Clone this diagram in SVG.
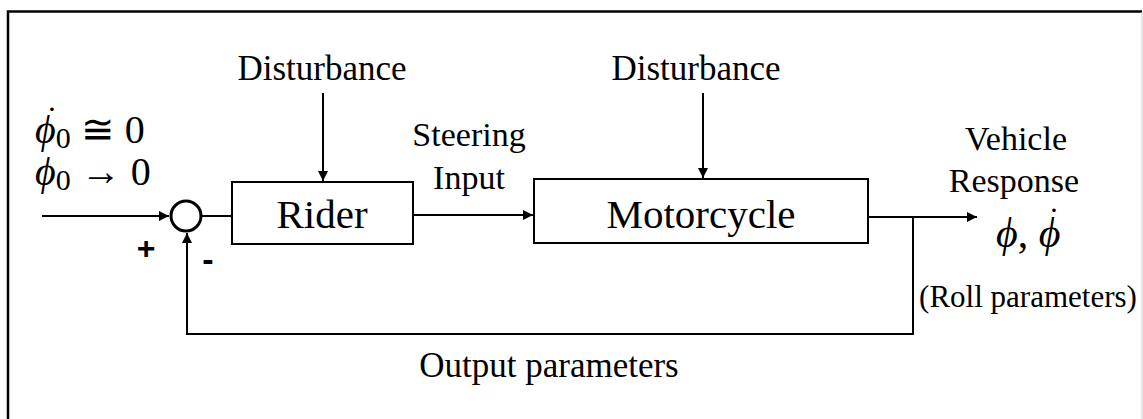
<svg xmlns="http://www.w3.org/2000/svg" width="1143" height="419" viewBox="0 0 1143 419">
<style>
.t{font-family:"Liberation Serif","Times New Roman",serif;fill:#000}
.m{font-family:"Liberation Serif","DejaVu Serif",serif;font-style:italic;fill:#000}
.ln{stroke:#000;stroke-width:2;fill:none}
.box{stroke:#000;stroke-width:2;fill:#fff}
.sg{font-family:"Liberation Sans",Arial,sans-serif;font-weight:bold;fill:#000}
</style>
<defs>
<marker id="ah" viewBox="0 0 10 10" refX="10" refY="5" markerWidth="10" markerHeight="10" markerUnits="userSpaceOnUse" orient="auto">
<path d="M0,0 L10,5 L0,10 z" fill="#000"/>
</marker>
</defs>
<rect x="0" y="0" width="1143" height="419" fill="#fff"/>
<g id="frame">
<path d="M8,420 V11.5 H1142" stroke="#000" stroke-width="2.5" fill="none"/>
<line x1="1142" y1="12" x2="1142" y2="419" stroke="#ccc" stroke-width="1"/>
</g>
<g id="connectors">
<line class="ln" x1="42" y1="216" x2="169" y2="216" marker-end="url(#ah)"/>
<line class="ln" x1="202" y1="216" x2="232" y2="216"/>
<line class="ln" x1="323" y1="93" x2="323" y2="181" marker-end="url(#ah)"/>
<line class="ln" x1="413" y1="215" x2="533" y2="215" marker-end="url(#ah)"/>
<line class="ln" x1="703" y1="93" x2="703" y2="178" marker-end="url(#ah)"/>
<line class="ln" x1="868" y1="217" x2="977" y2="217" marker-end="url(#ah)"/>
<polyline class="ln" points="913,217 913,334 187,334 187,233" marker-end="url(#ah)"/>
</g>
<g id="sum">
<circle cx="186" cy="216" r="15" fill="#fff" stroke="#000" stroke-width="3"/>
<text class="sg" x="146" y="259" font-size="32" text-anchor="middle">+</text>
<text class="sg" x="208" y="271" font-size="34" text-anchor="middle">-</text>
</g>
<g id="rider">
<rect class="box" x="232" y="182" width="181" height="62"/>
<text class="t" x="322" y="228" font-size="41" text-anchor="middle">Rider</text>
</g>
<g id="motorcycle">
<rect class="box" x="534" y="179" width="334" height="64"/>
<text class="t" x="701" y="228" font-size="41" text-anchor="middle">Motorcycle</text>
</g>
<g id="labels">
<text class="t" x="322" y="80" font-size="35" text-anchor="middle">Disturbance</text>
<text class="t" x="696" y="80" font-size="35" text-anchor="middle">Disturbance</text>
<text class="t" x="469" y="146" font-size="34" text-anchor="middle">Steering</text>
<text class="t" x="469" y="189" font-size="34" text-anchor="middle">Input</text>
<text class="t" x="1016" y="150" font-size="34" text-anchor="middle">Vehicle</text>
<text class="t" x="1014" y="192" font-size="34" text-anchor="middle">Response</text>
<text class="m" x="996" y="247" font-size="42">ϕ<tspan font-style="normal">, </tspan>ϕ</text>
<text class="t" x="1054" y="231" font-size="34" text-anchor="middle">˙</text>
<text class="t" x="52" y="130" font-size="34" text-anchor="middle">˙</text>
<text class="t" x="1028" y="307" font-size="31" text-anchor="middle">(Roll parameters)</text>
<text class="t" x="549" y="377" font-size="35" text-anchor="middle">Output parameters</text>
<text class="m" x="35" y="143" font-size="40">ϕ<tspan font-style="normal" font-size="30" dy="5">0</tspan><tspan font-style="normal" dy="-5"> ≅ 0</tspan></text>
<text class="m" x="35" y="185" font-size="40">ϕ<tspan font-style="normal" font-size="30" dy="5">0</tspan><tspan font-style="normal" dy="-5"> → 0</tspan></text>
</g>
</svg>
